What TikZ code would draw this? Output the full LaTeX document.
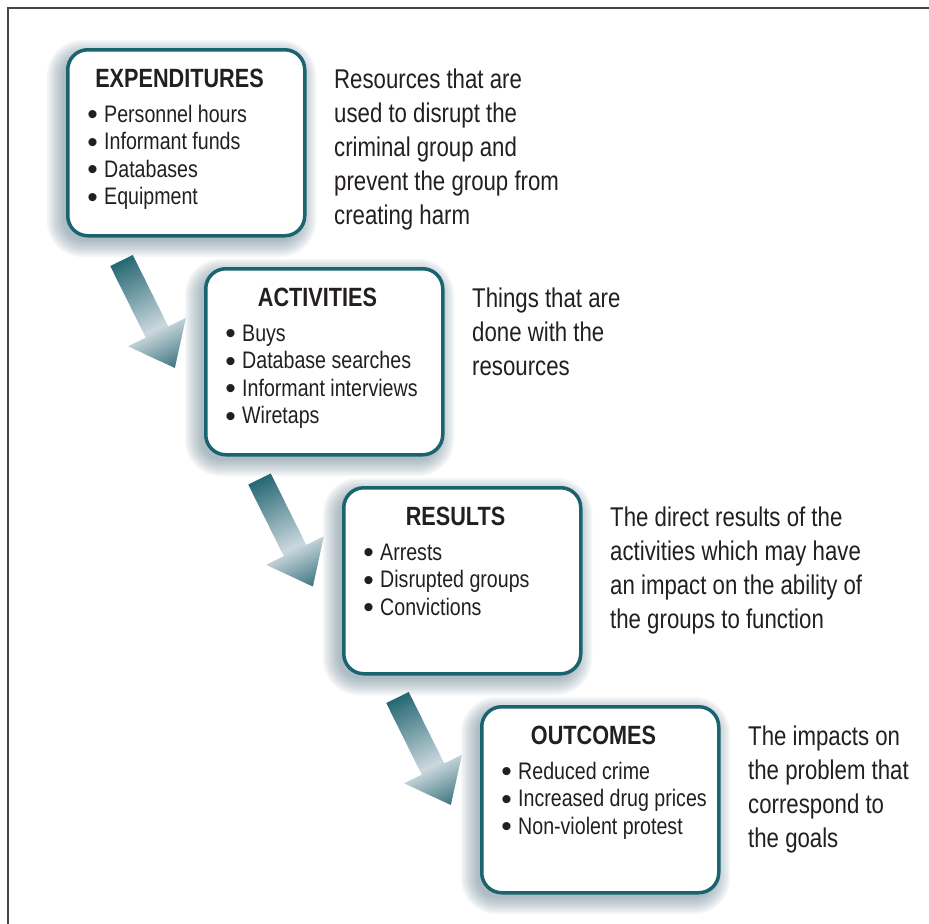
\documentclass[tikz,border=0pt]{standalone}
\usepackage{fontspec}
\setmainfont{Liberation Sans}[FakeStretch=0.82]
\newfontfamily\dotfont{Liberation Sans}
\definecolor{boxteal}{RGB}{26,100,112}
\definecolor{inkcol}{RGB}{35,31,32}
\definecolor{shadecol}{RGB}{95,125,140}
\definecolor{arrdark}{RGB}{38,104,116}
\definecolor{arrlight}{RGB}{204,216,222}
\definecolor{arrtip}{RGB}{60,116,127}
\definecolor{framecol}{RGB}{70,70,70}
\tikzset{
  stagebox/.style={draw=boxteal, line width=3.5bp, fill=white, rounded corners=20bp, inner sep=0pt, minimum width=237bp, minimum height=186bp, anchor=north west},
  stagetitle/.style={anchor=base, inner sep=0pt, text=inkcol, font=\fontsize{26.5}{30}\selectfont\bfseries},
  stageitem/.style={anchor=base west, inner sep=0pt, text=inkcol, font=\fontsize{24}{28}\selectfont},
  stagedot/.style={anchor=base, inner sep=0pt, text=inkcol, font=\dotfont\fontsize{30}{28}\selectfont},
  stagedesc/.style={anchor=base west, inner sep=0pt, text=inkcol, font=\fontsize{27.2}{34}\selectfont},
  softshadow/.style={fill=shadecol, opacity=0.07},
  framerule/.style={draw=framecol, line width=1.8bp},
}
\newcommand\stagegroup[6]{%
  \foreach \r in {16,14,...,0}{%
    \pgfmathsetmacro\rc{20+\r}%
    \fill[softshadow, rounded corners=\rc bp] (#2-3-\r,#3+8-\r) rectangle (#2+234+\r,#3+193+\r);
  }
  \node[stagebox] (#1) at (#2,#3) {};
  \node[stagetitle] (#1-title) at (#2+113.5,#3+39) {#4};
  \foreach \txt [count=\n] in {#5}{%
    \pgfmathsetmacro\yy{#3+74+27.5*(\n-1)}%
    \node[stagedot] (#1-dot\n) at (#2+26.5,\yy+2.5) {•};
    \node[stageitem] (#1-item\n) at (#2+38,\yy) {\txt};
  }
  \foreach \txt [count=\n] in {#6}{%
    \pgfmathsetmacro\yy{#3+40+34*(\n-1)}%
    \node[stagedesc] (#1-desc\n) at (#2+268,\yy) {\txt};
  }
}
\newcommand\flowarrow[3]{%
  \coordinate (#1-start) at (#2,#3);
  \begin{scope}[shift={(#1-start)}, rotate=-63.6]
    \coordinate (#1-tip) at (120,0);
    \clip (0,-12.5) -- (80,-12.5) -- (80,-32) -- (#1-tip) -- (80,32) -- (80,12.5) -- (0,12.5) -- cycle;
    \foreach \x in {0,2,...,74}{%
      \pgfmathsetmacro\pc{100-100*\x/76}%
      \fill[arrdark!\pc!arrlight] (\x,-40) rectangle (\x+2.6,40);
    }
    \foreach \x in {76,78,...,120}{%
      \pgfmathsetmacro\pc{100*(\x-76)/44}%
      \fill[arrtip!\pc!arrlight] (\x,-40) rectangle (\x+2.6,40);
    }
  \end{scope}
}
\begin{document}
\begin{tikzpicture}[x=1bp,y=-1bp]
\useasboundingbox (0,0) rectangle (929,924);
\fill[white] (0,0) rectangle (929,924);
\coordinate (frame-bl) at (8,924);
\coordinate (frame-tl) at (8,8);
\coordinate (frame-tr) at (929,8);
\draw[framerule] (frame-bl) -- (frame-tl) -- (frame-tr);
\stagegroup{exp}{66}{48}{EXPENDITURES}{Personnel hours,Informant funds,Databases,Equipment}{Resources that are,used to disrupt the,criminal group and,prevent the group from,creating harm}
\stagegroup{act}{204}{267}{ACTIVITIES}{Buys,Database searches,Informant interviews,Wiretaps}{Things that are,done with the,resources}
\stagegroup{res}{342}{486}{RESULTS}{Arrests,Disrupted groups,Convictions}{The direct results of the,activities which may have,an impact on the ability of,the groups to function}
\stagegroup{out}{480}{705}{OUTCOMES}{Reduced crime,Increased drug prices,Non-violent protest}{The impacts on,the problem that,correspond to,the goals}
\flowarrow{a1}{121.5}{260.5}
\flowarrow{a2}{259.5}{479}
\flowarrow{a3}{397.5}{697.5}
\end{tikzpicture}
\end{document}
